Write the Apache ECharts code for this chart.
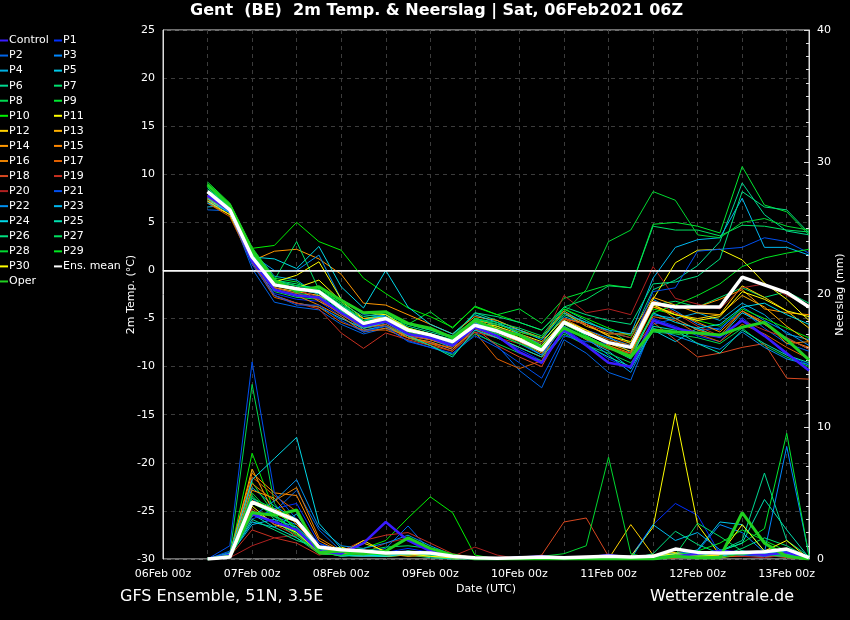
<!DOCTYPE html>
<html><head><meta charset="utf-8">
<script src="https://cdn.jsdelivr.net/npm/echarts@6/dist/echarts.min.js"></script>
<style>html,body{margin:0;padding:0;background:#000}#c{width:850px;height:620px}</style>
</head><body><div id="c"></div>
<script>
// forecast hours since 06Feb 00z
const hours = [12,18,24,30,36,42,48,54,60,66,72,78,84,90,96,102,108,114,120,126,132,138,144,150,156,162,168,174];
const dayLabels = ['06Feb 00z','07Feb 00z','08Feb 00z','09Feb 00z','10Feb 00z','11Feb 00z','12Feb 00z','13Feb 00z'];

// 2m temperature (°C)
const t_Control = [7.8,6.2,1.0,-2.0,-2.6,-2.8,-4.4,-5.8,-5.3,-6.6,-7.0,-7.8,-5.9,-6.8,-8.5,-9.6,-6.2,-7.8,-9.6,-10.0,-5.2,-6.0,-6.5,-6.9,-5.2,-6.8,-8.6,-10.4];
const t_P1  = [7.6,6.0,0.8,-2.4,-3.0,-3.2,-4.8,-6.3,-5.6,-7.0,-7.5,-8.2,-6.2,-7.0,-8.2,-9.4,-6.0,-7.6,-9.2,-10.2,-5.0,-5.8,-6.8,-7.4,-4.9,-6.8,-8.8,-9.8];
const t_P2  = [6.3,6.2,0.2,-3.3,-3.8,-4.1,-5.6,-6.6,-6.0,-7.3,-8.0,-8.7,-6.4,-7.8,-10.4,-12.2,-7.2,-8.6,-10.6,-11.4,-5.6,-5.0,-6.2,-6.0,-4.2,-6.0,-7.6,-8.4];
const t_P3  = [7.0,6.5,1.8,-1.2,-1.6,-2.0,-3.8,-5.6,-5.0,-6.1,-6.9,-7.6,-5.2,-6.4,-7.4,-8.8,-5.2,-6.2,-7.0,-7.8,-3.0,-4.2,-5.6,-6.2,-3.8,-5.2,-6.4,-7.8];
const t_P4  = [6.6,6.8,2.2,-0.6,-1.0,-2.6,-4.4,-6.2,-5.8,-6.8,-7.2,-8.0,-5.6,-6.0,-6.6,-7.6,-4.8,-5.6,-6.8,-8.6,-4.6,-5.0,-4.4,-5.2,-3.4,-4.6,-6.6,-7.2];
const t_P5  = [7.2,6.4,1.2,-2.6,-3.4,-3.8,-5.0,-6.0,-5.4,-6.6,-7.2,-7.8,-5.4,-6.2,-7.0,-8.2,-5.8,-7.2,-8.4,-10.2,-6.2,-7.4,-6.0,-7.0,-4.4,-5.6,-7.0,-8.2];
const t_P6  = [8.4,6.6,1.6,-1.8,-2.4,-2.6,-4.0,-5.2,-4.8,-5.8,-6.4,-7.0,-4.4,-5.2,-6.2,-7.0,-4.0,-5.2,-6.4,-7.0,-2.0,-1.0,0.5,3.0,9.1,5.8,4.1,3.7];
const t_P7  = [8.8,6.6,2.0,-1.0,-1.4,-2.0,-3.6,-5.0,-4.6,-5.6,-6.2,-7.0,-5.0,-5.8,-6.8,-7.6,-4.6,-5.4,-6.2,-7.6,-3.6,-3.2,-3.8,-2.8,-1.8,-2.8,-2.2,-3.4];
const t_P8  = [8.9,6.6,1.2,-2.2,-2.8,-3.0,-4.6,-6.0,-5.6,-7.0,-7.8,-8.8,-6.6,-7.6,-8.6,-9.4,-6.6,-7.8,-8.6,-9.6,-6.4,-6.6,-7.0,-7.6,-6.0,-7.8,-9.0,-10.0];
const t_P9  = [9.2,7.0,2.4,-0.8,-1.2,-2.4,-4.2,-5.6,-5.0,-5.6,-4.3,-6.0,-3.7,-4.6,-4.0,-5.5,-2.9,-2.2,-1.5,-1.8,4.8,5.0,4.6,3.9,10.8,6.8,6.1,3.7];
const t_P10 = [9.0,6.8,2.3,2.6,5.0,3.0,2.1,-0.8,-2.4,-3.9,-4.8,-5.9,-3.8,-4.6,-5.4,-6.2,-4.0,-5.0,-6.0,-6.8,-4.0,-4.6,-5.2,-5.8,-4.0,-5.0,-6.0,-7.0];
const t_P11 = [7.4,6.0,1.0,-1.4,-1.8,-1.0,-3.2,-5.0,-4.8,-6.0,-6.6,-7.4,-5.4,-5.8,-6.6,-7.4,-5.0,-5.6,-6.8,-7.4,-3.0,0.8,2.1,2.2,1.1,-1.3,-3.0,-5.2];
const t_P12 = [7.2,6.1,1.3,-1.6,-2.0,-2.4,-4.0,-5.4,-5.2,-6.6,-7.2,-7.8,-5.6,-6.4,-7.2,-8.0,-5.6,-6.6,-7.6,-8.4,-3.8,-4.6,-5.0,-4.6,-1.6,-2.8,-4.2,-6.0];
const t_P13 = [7.0,5.8,1.5,-1.8,-2.2,-2.6,-3.8,-5.0,-5.0,-6.0,-6.8,-7.6,-5.2,-5.6,-6.4,-7.0,-4.4,-5.8,-6.6,-6.6,-2.8,-3.6,-4.4,-4.6,-2.6,-3.8,-5.8,-7.4];
const t_P14 = [7.8,6.2,1.0,2.0,2.2,1.2,-0.4,-3.4,-3.6,-4.6,-5.6,-6.6,-4.8,-5.2,-6.2,-7.0,-4.2,-5.6,-6.8,-7.6,-3.2,-3.8,-3.8,-3.0,-2.0,-4.0,-4.4,-4.6];
const t_P15 = [7.6,6.0,1.6,-1.4,-1.8,-3.2,-4.4,-5.6,-5.8,-7.0,-7.4,-8.2,-6.0,-6.6,-7.4,-8.6,-5.4,-6.4,-7.8,-8.6,-3.8,-4.4,-5.4,-6.4,-4.2,-5.6,-7.2,-8.0];
const t_P16 = [7.4,6.4,1.4,-2.0,-2.6,-3.6,-4.8,-6.4,-6.0,-6.8,-7.6,-8.4,-6.0,-7.0,-8.0,-9.0,-5.6,-6.2,-7.2,-7.8,-3.4,-5.0,-6.2,-6.8,-4.2,-5.4,-7.6,-7.4];
const t_P17 = [7.0,5.6,0.8,-2.8,-3.4,-3.8,-5.4,-6.2,-6.2,-7.0,-7.6,-8.0,-6.4,-9.2,-10.2,-9.4,-5.0,-6.2,-7.8,-8.8,-4.8,-5.2,-6.6,-7.4,-5.6,-6.6,-8.0,-9.2];
const t_P18 = [7.6,6.0,1.2,-1.8,-2.4,-3.0,-4.6,-6.0,-5.6,-6.8,-7.2,-7.8,-6.0,-7.8,-9.0,-10.0,-5.8,-7.2,-8.2,-8.6,-5.4,-7.2,-9.0,-8.6,-8.0,-7.6,-11.2,-11.3];
const t_P19 = [7.8,6.2,1.0,-2.6,-3.4,-4.0,-6.5,-8.1,-6.5,-7.2,-7.8,-8.4,-6.4,-7.0,-7.6,-8.4,-5.0,-5.6,-6.4,-7.0,-3.2,-4.4,-5.8,-6.8,-5.2,-6.2,-7.0,-8.2];
const t_P20 = [8.0,6.4,1.6,-1.6,-2.0,-2.8,-4.4,-5.4,-5.4,-6.4,-7.0,-7.8,-5.2,-6.0,-6.6,-7.6,-2.6,-4.4,-4.0,-4.6,0.4,-2.9,-3.5,-4.0,-1.8,-1.4,-2.6,-3.6];
const t_P21 = [7.2,6.0,0.6,-2.6,-3.6,-3.6,-5.2,-6.4,-5.8,-7.4,-8.0,-8.6,-6.8,-8.0,-9.6,-11.2,-6.8,-7.4,-7.6,-7.8,-2.2,-1.8,2.0,2.2,2.4,3.4,3.0,1.8];
const t_P22 = [7.0,6.2,1.6,0.0,0.0,1.6,-3.0,-4.6,-4.8,-6.2,-6.8,-7.6,-5.4,-6.6,-7.6,-8.8,-5.8,-7.0,-8.8,-10.6,-6.0,-6.8,-7.6,-8.2,-6.4,-8.0,-9.2,-9.8];
const t_P23 = [8.0,6.4,1.8,-1.6,-2.0,-2.4,-3.6,-5.2,-4.6,-6.0,-6.6,-7.2,-5.0,-5.6,-6.2,-7.2,-4.4,-5.4,-6.2,-6.6,-0.8,2.4,3.2,3.4,7.5,2.4,2.4,1.6];
const t_P24 = [7.5,6.0,1.4,1.2,0.2,2.5,-1.7,-3.9,0.0,-3.8,-5.6,-6.6,-4.6,-5.4,-6.6,-7.8,-5.2,-6.8,-8.0,-9.2,-4.4,-5.4,-6.0,-5.6,-3.8,-3.4,-4.6,-5.6];
const t_P25 = [8.6,6.6,1.4,-1.4,-1.8,-2.4,-4.2,-6.0,-5.4,-6.8,-7.8,-9.0,-6.2,-7.0,-8.0,-9.0,-6.4,-7.8,-9.0,-10.0,-5.8,-6.2,-7.6,-8.6,-6.2,-7.6,-8.8,-9.6];
const t_P26 = [8.8,6.8,1.8,-1.0,-1.6,-1.8,-3.4,-4.8,-4.4,-5.6,-6.2,-6.8,-4.4,-4.8,-5.4,-6.2,-3.8,-4.6,-5.2,-5.6,-1.4,-1.2,-0.6,1.2,8.2,6.6,6.3,3.9];
const t_P27 = [8.6,6.4,1.2,-1.0,3.0,-2.0,-3.6,-5.4,-5.0,-6.0,-6.6,-7.2,-5.0,-5.4,-6.0,-6.8,-3.8,-3.0,-1.6,-1.8,4.6,4.2,4.2,3.6,4.7,4.6,4.2,4.0];
const t_P28 = [8.8,6.6,1.6,-1.2,-1.6,-2.0,-3.4,-5.2,-5.0,-6.2,-6.8,-7.4,-5.0,-5.6,-6.4,-7.0,-4.4,-2.0,3.0,4.2,8.2,7.3,3.7,3.4,5.0,5.4,4.6,4.2];
const t_P29 = [9.0,6.8,1.8,-1.6,-2.0,-2.2,-3.8,-5.6,-5.2,-6.4,-7.0,-7.8,-5.8,-6.6,-7.6,-8.4,-5.6,-6.8,-8.0,-8.8,-4.4,-3.6,-2.6,-1.4,0.4,1.3,1.8,2.2];
const t_P30 = [7.2,5.8,1.0,-1.2,-0.5,0.9,-3.0,-4.4,-4.6,-6.0,-6.6,-7.4,-5.2,-6.0,-7.0,-7.8,-5.2,-6.2,-7.6,-8.0,-3.6,-4.6,-5.2,-4.8,-2.2,-3.0,-4.2,-4.8];
const t_Oper = [8.9,6.8,2.1,-1.0,-2.2,-1.7,-3.1,-4.4,-4.3,-5.5,-6.0,-7.0,-5.2,-6.2,-6.7,-8.0,-6.0,-7.0,-8.0,-9.0,-6.2,-6.4,-6.5,-6.7,-5.9,-5.4,-7.2,-9.3];
const t_Mean = [8.2,6.3,1.4,-1.5,-1.9,-2.2,-3.9,-5.5,-5.0,-6.2,-6.7,-7.4,-5.7,-6.3,-7.2,-8.3,-5.4,-6.5,-7.5,-8.0,-3.4,-3.8,-3.8,-3.8,-0.7,-1.5,-2.3,-3.8];

// precipitation (mm)
const p_Control = [0,0.3,3.4,2.8,2.2,0.6,0.4,1.2,2.8,1.4,0.6,0.2,0,0,0.1,0.2,0,0.1,0.3,0.1,0,0.2,0.4,0.6,0.5,0.3,0.5,0];
const p_P1  = [0,0.2,3.0,3.8,4.2,1.2,0.4,0.6,0.5,0.8,0.5,0.1,0,0,0,0.1,0,0,0.1,0.2,2.6,4.2,3.3,0.4,0.3,0.2,0.4,0];
const p_P2  = [0,0.6,4.2,3.6,5.2,2.2,0.6,0.5,0.8,2.5,0.6,0.3,0,0,0.2,0.1,0,0,0,0,0.2,0.4,0.3,0.2,0.4,0.5,0.6,0.1];
const p_P3  = [0,0.4,4.6,3.2,2.6,0.8,0.4,0.3,0.4,0.5,0.3,0.1,0,0,0,0,0,0,0,0,0.2,0.4,0.6,2.6,2.0,0.5,8.5,0.3];
const p_P4  = [0,0.2,5.4,4.0,3.0,0.6,0.8,0.4,0.3,0.6,0.2,0,0,0,0,0,0,0,0,0,0.1,0.3,0.5,0.4,0.6,0.3,0.4,0];
const p_P5  = [0,0.3,2.8,2.4,3.4,0.9,0.3,0.2,0.2,0.4,0.3,0.2,0,0,0,0.1,0,0,0,0,0.1,0.2,0.7,2.8,2.6,0.6,0.4,0];
const p_P6  = [0,0.1,3.6,2.8,1.9,0.5,0.4,0.2,0.2,0.3,0.1,0,0,0,0,0,0,0,0,0,0,0.3,0.5,0.6,1.4,6.5,1.4,0.2];
const p_P7  = [0,0.2,4.8,3.0,1.6,0.4,0.3,0.2,0.4,0.5,0.6,0.3,0.1,0,0,0,0,0,0,0,0,0.4,0.3,0.2,0.8,1.6,1.0,0.1];
const p_P8  = [0,0.3,13.2,4.2,2.0,0.6,0.3,0.2,0.3,0.3,0.2,0.1,0,0,0,0,0,0,0,0,0,0.2,0.1,0.3,0.5,0.4,0.3,0];
const p_P9  = [0,0.4,5.8,3.4,2.0,0.4,0.3,0.3,0.5,0.3,0.2,0,0,0,0,0,0.1,0,0,0.1,0.3,0.5,0.4,0.6,1.2,2.3,9.5,0.2];
const p_P10 = [0,0.2,8.0,3.6,2.4,0.7,0.6,0.8,1.4,3.1,4.7,3.5,0.3,0,0,0.1,0,0,0,0,0,0.2,0.2,0.4,0.3,0.2,0.3,0];
const p_P11 = [0,0.1,4.0,2.6,2.2,0.6,0.9,0.4,0.2,0.3,0.4,0.2,0,0,0,0,0,0,0,0.2,2.4,11.0,2.6,0.3,0.4,0.2,0.8,0];
const p_P12 = [0,0.2,4.4,3.8,3.0,0.8,0.5,1.2,0.6,0.4,0.3,0.1,0,0,0,0,0,0,0,2.6,0.3,0.5,0.2,0.1,0.3,0.2,0.2,0];
const p_P13 = [0,0.3,6.8,3.4,2.8,0.5,0.4,0.6,0.4,0.2,0.3,0,0,0,0,0.1,0,0,0,0,0.1,0.2,0.3,0.1,0.4,0.6,0.3,0];
const p_P14 = [0,0.1,5.2,4.6,2.6,0.9,0.3,0.5,0.3,0.3,0.2,0.1,0,0,0,0,0,0,0,0,0,0.1,0.2,0.2,0.3,0.3,0.2,0];
const p_P15 = [0,0.4,6.5,5.0,4.8,1.4,0.5,0.3,0.4,0.5,0.2,0.1,0,0,0,0,0,0,0,0,0.1,0.3,0.1,0.2,0.2,0.4,0.3,0];
const p_P16 = [0,0.3,5.7,4.4,5.4,1.6,0.6,0.4,0.3,0.4,0.4,0.1,0,0,0,0,0,0,0,0,0,0.2,0.3,0.3,0.5,0.3,0.2,0];
const p_P17 = [0,0.2,6.2,4.8,3.6,1.0,0.3,0.4,0.6,0.3,0.3,0.2,0,0,0,0,0,0,0,0,0,0.1,0.2,0.4,0.3,0.2,0.4,0];
const p_P18 = [0,0.1,3.8,2.6,1.8,0.4,0.3,0.2,0.3,0.4,0.2,0.1,0,0,0,0.3,2.8,3.1,0.2,0,0,0.1,0.2,0.3,0.2,0.3,0.1,0];
const p_P19 = [0,0.2,2.2,1.6,1.2,0.3,0.6,1.4,1.8,2.0,1.2,0.4,0.1,0,0,0,0,0,0,0,0,0.2,0.1,0.2,0.3,0.4,0.2,0];
const p_P20 = [0,0.1,1.0,1.6,1.8,0.6,0.2,0.4,1.2,1.6,0.8,0.2,0.9,0.3,0,0,0,0,0,0,0,0.3,0.2,0.3,0.2,0.1,0.3,0];
const p_P21 = [0,1.0,14.9,5.0,3.0,1.2,0.6,0.4,0.5,0.6,0.3,0.2,0,0,0,0,0,0,0,0,0.2,0.4,0.6,0.4,0.3,0.2,0.4,0];
const p_P22 = [0,0.5,3.2,4.4,6.0,2.4,1.0,0.8,1.2,1.8,1.0,0.3,0,0,0,0,0,0,0,0,0.1,0.2,0.4,0.4,0.6,0.5,0.4,0];
const p_P23 = [0,0.3,2.6,3.0,2.4,0.8,0.3,0.2,0.3,0.6,0.4,0.2,0,0,0,0,0,0,0,0,2.6,1.4,2.0,0.7,0.4,0.3,0.2,0];
const p_P24 = [0,0.4,6.0,7.6,9.2,2.7,0.8,0.3,0.2,0.4,0.3,0.1,0,0,0,0,0,0,0,0,0.2,0.4,0.3,0.2,0.5,0.4,0.6,0];
const p_P25 = [0,0.2,3.4,2.4,1.6,0.6,0.2,0.3,0.4,0.4,0.2,0,0,0,0,0,0,0,0,0,0.2,0.3,0.2,0.6,1.2,4.5,2.2,0.1];
const p_P26 = [0,0.2,3.0,2.2,1.4,0.9,0.8,0.5,0.4,0.3,0.4,0.2,0,0,0,0,0,0,0,0,0.4,2.1,1.1,0.4,0.3,0.6,0.4,0];
const p_P27 = [0,0.1,4.6,3.8,2.2,0.4,0.3,0.6,0.9,1.0,0.8,0.2,0,0,0,0,0,0,0,0,0.1,0.3,2.7,1.7,0.6,0.4,0.3,0];
const p_P28 = [0,0.3,5.0,3.2,2.0,0.4,0.3,0.5,0.6,0.4,0.3,0.2,0,0,0,0.2,0.4,1.0,7.7,0.4,0,0.2,0.3,0.1,0.4,0.3,0.2,0];
const p_P29 = [0,0.2,4.2,3.4,1.8,0.5,0.3,0.4,0.3,0.6,0.5,0.2,0,0,0,0,0,0,0,0,0,0.3,0.6,1.2,2.2,1.4,0.6,0];
const p_P30 = [0,0.2,3.6,2.8,2.0,0.5,0.4,1.4,0.5,0.4,0.2,0.1,0,0,0,0,0,0,0,0,0.2,0.4,0.2,0.3,2.6,0.6,1.4,0];
const p_Oper = [0,0.2,3.5,3.3,3.7,0.5,0.6,0.4,0.6,1.6,0.8,0.3,0,0,0,0,0,0,0,0,0,0.2,0.1,0.1,3.5,1.2,0.2,0];
const p_Mean = [0,0.15,4.3,3.6,2.9,0.9,0.7,0.6,0.45,0.5,0.45,0.2,0.1,0.05,0.1,0.15,0.1,0.15,0.2,0.15,0.2,0.75,0.5,0.45,0.5,0.55,0.75,0.1];

const names = ['Control','P1','P2','P3','P4','P5','P6','P7','P8','P9','P10','P11','P12','P13','P14','P15','P16','P17','P18','P19','P20','P21','P22','P23','P24','P25','P26','P27','P28','P29','P30','Ens. mean','Oper'];
const temps = [t_Control,t_P1,t_P2,t_P3,t_P4,t_P5,t_P6,t_P7,t_P8,t_P9,t_P10,t_P11,t_P12,t_P13,t_P14,t_P15,t_P16,t_P17,t_P18,t_P19,t_P20,t_P21,t_P22,t_P23,t_P24,t_P25,t_P26,t_P27,t_P28,t_P29,t_P30,t_Mean,t_Oper];
const precs = [p_Control,p_P1,p_P2,p_P3,p_P4,p_P5,p_P6,p_P7,p_P8,p_P9,p_P10,p_P11,p_P12,p_P13,p_P14,p_P15,p_P16,p_P17,p_P18,p_P19,p_P20,p_P21,p_P22,p_P23,p_P24,p_P25,p_P26,p_P27,p_P28,p_P29,p_P30,p_Mean,p_Oper];

// styles
const colors = ['#3a1cff','#0030ff','#0064e8','#0088ff','#00aee0','#00c8e8','#00d890','#00e070','#00d850','#00e830','#00f000','#ffff00','#ffd000','#ffb000','#ff9800','#ff8800','#e88000','#e06000','#d84820','#c83020','#b02020','#0050f0','#0090f0','#00b8f0','#00d8e8','#00e0b0','#00e080','#00e060','#00d830','#00e820','#ffff00','#ffffff','#20d020'];
const widths = {'Control':2.5,'Ens. mean':3.5,'Oper':3};
const FONT = 'DejaVu Sans';

const drawOrder = [];
for (let i = 1; i <= 30; i++) drawOrder.push(i);
drawOrder.push(0, 32, 31);

const series = [];
drawOrder.forEach((idx, k) => {
  const nm = names[idx], col = colors[idx], w = widths[nm] || 1;
  const t = {
    type:'line', name:nm, yAxisIndex:0, showSymbol:false, symbol:'none',
    data: hours.map((h,i)=>[h, temps[idx][i]]),
    lineStyle:{color:col, width:w}, itemStyle:{color:col},
    z: 2 + k*0.01, animation:false, silent:true
  };
  if (k === 0) {
    t.markLine = {silent:true, symbol:'none', label:{show:false},
      lineStyle:{color:'#ffffff', type:'solid', width:1.5}, data:[{yAxis:0}]};
  }
  series.push(t);
  series.push({
    type:'line', name:nm, yAxisIndex:1, showSymbol:false, symbol:'none',
    data: hours.map((h,i)=>[h, precs[idx][i]]),
    lineStyle:{color:col, width:w}, itemStyle:{color:col},
    z: 2 + k*0.01, animation:false, silent:true
  });
});

const leftCol = names.filter((n,i)=> i%2===0);   // Control, P2 ... P30, Oper
const rightCol = names.filter((n,i)=> i%2===1);  // P1 ... P29, Ens. mean
const legendBase = {orient:'vertical', top:34, itemGap:2.06, itemWidth:8, itemHeight:2, icon:'rect',
  padding:0, selectedMode:false,
  textStyle:{color:'#ffffff', fontSize:11, fontFamily:FONT, lineHeight:13, padding:[0,0,0,-4]}};

const chart = echarts.init(document.getElementById('c'));
chart.setOption({
  backgroundColor:'#000000',
  animation:false,
  grid:{left:163, right:41, top:30, bottom:61, show:true, borderColor:'#dddddd', borderWidth:1,
        backgroundColor:'#000000', containLabel:false, outerBoundsMode:'none'},
  legend:[
    Object.assign({}, legendBase, {left:0, data:leftCol}),
    Object.assign({}, legendBase, {left:54, data:rightCol})
  ],
  xAxis:{
    type:'value', min:0, max:174, interval:12,
    name:'Date (UTC)', nameLocation:'middle', nameGap:25, nameMoveOverlap:false,
    nameTextStyle:{color:'#ffffff', fontSize:11, fontFamily:FONT},
    axisLine:{show:true, lineStyle:{color:'#dddddd'}},
    axisTick:{show:false},
    axisLabel:{color:'#ffffff', fontSize:11, fontFamily:FONT, margin:10,
      formatter: v => (v % 24 === 0 ? dayLabels[v/24] : '')},
    splitLine:{show:true, lineStyle:{color:'#3c3c3c', type:[4,4], width:1}}
  },
  yAxis:[
    {type:'value', min:-30, max:25, interval:5, position:'left',
     name:'2m Temp. (°C)', nameLocation:'middle', nameGap:26, nameRotate:90, nameMoveOverlap:false,
     nameTextStyle:{color:'#ffffff', fontSize:11, fontFamily:FONT},
     axisLine:{show:true, lineStyle:{color:'#dddddd'}},
     axisTick:{show:false},
     axisLabel:{color:'#ffffff', fontSize:11, fontFamily:FONT, margin:8},
     splitLine:{show:true, lineStyle:{color:'#3c3c3c', type:[4,4], width:1}}},
    {type:'value', min:0, max:40, interval:10, position:'right',
     name:'Neerslag (mm)', nameLocation:'middle', nameGap:26, nameRotate:90, nameMoveOverlap:false,
     nameTextStyle:{color:'#ffffff', fontSize:11, fontFamily:FONT},
     axisLine:{show:true, lineStyle:{color:'#dddddd'}},
     axisTick:{show:true, inside:true, length:5, lineStyle:{color:'#dddddd'}},
     minorTick:{show:true, splitNumber:10, length:3, lineStyle:{color:'#dddddd'}},
     axisLabel:{color:'#ffffff', fontSize:11, fontFamily:FONT, margin:8},
     splitLine:{show:false}}
  ],
  graphic:[
    {type:'text', left:190, top:3, style:{text:'Gent  (BE)  2m Temp. & Neerslag | Sat, 06Feb2021 06Z',
      fill:'#ffffff', font:'bold 16px "DejaVu Sans"'}},
    {type:'text', left:120, top:589, style:{text:'GFS Ensemble, 51N, 3.5E', fill:'#ffffff', font:'16px "DejaVu Sans"'}},
    {type:'text', left:650, top:589, style:{text:'Wetterzentrale.de', fill:'#ffffff', font:'16px "DejaVu Sans"'}}
  ],
  series: series
});
</script>
</body></html>
